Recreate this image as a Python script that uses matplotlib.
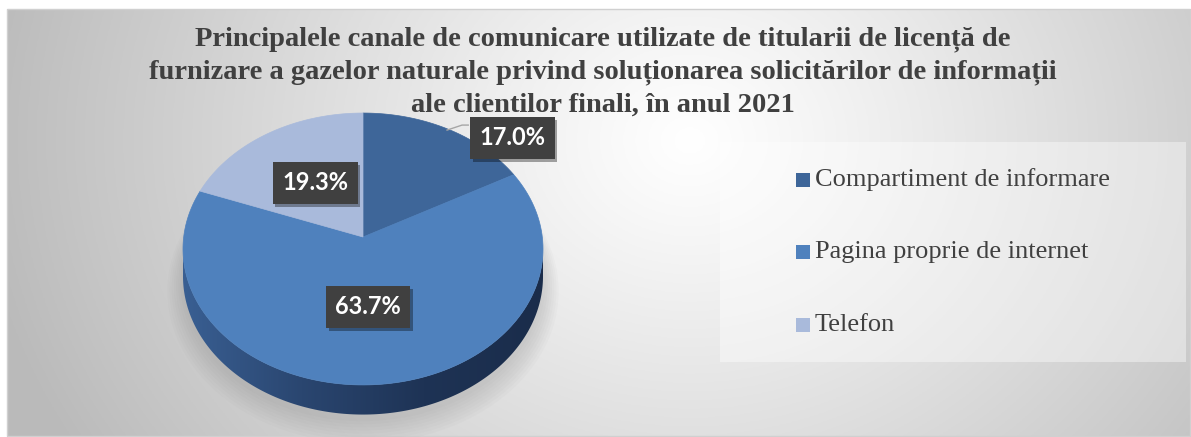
import numpy as np
import matplotlib.pyplot as plt
import matplotlib.patheffects as pe
from matplotlib.patches import Polygon, Rectangle
from matplotlib.colors import LinearSegmentedColormap

title = ("Principalele canale de comunicare utilizate de titularii de licență de\n"
         "furnizare a gazelor naturale privind soluționarea solicitărilor de informații\n"
         "ale clientilor finali, în anul 2021")
categories = ["Compartiment de informare", "Pagina proprie de internet", "Telefon"]
shares = [17.0, 63.7, 19.3]
colors = ["#3E6699", "#4F81BD", "#A9BADB"]
labels = ["17.0%", "63.7%", "19.3%"]
# label centres in pie-disk coordinates (x right, y towards the back)
label_xy = [(0.89, 0.785), (0.027, -0.496), (-0.277, 0.415)]

W, H = 1191, 437
cx, cy = 363, 237          # apex of the pie on screen
A, B, p = 179.3, 134.9, 0.0882   # perspective ellipse
depth = 27


def proj(x, y, z=0.0):
    w = 1 + p * y
    return cx + A * x / w, cy - B * y / w + z / w


fig = plt.figure(figsize=(W / 100, H / 100), dpi=100)
ax = fig.add_axes([0, 0, 1, 1])
ax.set_xlim(0, W)
ax.set_ylim(H, 0)
ax.axis('off')

# background: radial grey gradient
gx, gy = np.meshgrid(np.linspace(7, W, 400), np.linspace(9, H, 160))
d = np.sqrt(((gx - 690) / 1.0) ** 2 + ((gy - 140) / 0.85) ** 2) / 720
g = 1 - 0.27 * np.clip(d, 0, 1) ** 1.1
ax.imshow(np.dstack([g, g, g]), extent=(7, W, H, 9), aspect='auto', zorder=0)
ax.add_patch(Rectangle((7, 9), W - 8, H - 10, fill=False, ec='#D0D0D0', lw=1, zorder=1))

# soft shadow under the pie
t = np.linspace(0, 2 * np.pi, 200)
for k in range(8):
    s = 1.0 + 0.012 * k
    px, py = proj(s * np.cos(t), s * np.sin(t) - 0.02, depth + 3 + k)
    ax.fill(px, py, color='#7F7F7F', alpha=0.035, lw=0, zorder=2)

# side wall (front part) as one polygon filled with a horizontal gradient
t0 = np.pi + np.arcsin(p)
t1 = 2 * np.pi - np.arcsin(p)
ts = np.linspace(t0, t1, 200)
top = [proj(np.cos(a), np.sin(a)) for a in ts]
bot = [proj(np.cos(a), np.sin(a), depth) for a in ts[::-1]]
side = Polygon(top + bot, closed=True, fc='none', ec='none', zorder=3)
ax.add_patch(side)
side_cmap = LinearSegmentedColormap.from_list('side', ["#3A6094", "#2A4670", "#1E3355", "#1A2C4A"])
grad = np.linspace(0, 1, 256)[None, :]
im = ax.imshow(grad, cmap=side_cmap, extent=(cx - 185, cx + 185, H, cy - 20),
               aspect='auto', zorder=3)
im.set_clip_path(side)

# top face wedges, clockwise from 12 o'clock
start = 90.0
mids = []
for share, col in zip(shares, colors):
    end = start - share / 100 * 360
    ang = np.radians(np.linspace(start, end, 150))
    pts = [proj(0, 0)] + [proj(np.cos(a), np.sin(a)) for a in ang]
    ax.add_patch(Polygon(pts, closed=True, fc=col, ec=col, lw=0.5, zorder=4))
    mids.append(np.radians((start + end) / 2))
    start = end

# leader line for the small slice
lx0, ly0 = proj(np.cos(mids[0]) * 0.99, np.sin(mids[0]) * 0.99)
lxb, lyb = proj(*label_xy[0])
ax.plot([lx0, lx0 + 15, lxb - 44], [ly0, ly0 - 5, ly0 - 5], color='#A6A6A6', lw=1, zorder=5)

# data labels
for lab, (lx, ly) in zip(labels, label_xy):
    x, y = proj(lx, ly)
    txt = ax.text(x, y, lab, ha='center', va='center', color='white', fontsize=17,
                  fontweight='bold', family=['Lato', 'DejaVu Sans'], zorder=7,
                  bbox=dict(boxstyle='square,pad=0.4', fc='#404040', ec='none'))
    txt.get_bbox_patch().set_path_effects([
        pe.SimplePatchShadow(offset=(2, -2), shadow_rgbFace='#000000', alpha=0.35),
        pe.Normal()])

# title
ax.text(603, 26, title, ha='center', va='top', fontsize=20.5, fontweight='bold',
        family='Liberation Serif', color='#404040', linespacing=1.4, zorder=6)

# legend
ax.add_patch(Rectangle((720, 142), 466, 220, fc='white', alpha=0.4, ec='none', zorder=5))
rows = [180, 252, 325]
for name, col, ry in zip(categories, colors, rows):
    ax.add_patch(Rectangle((796, ry - 7), 14, 14, fc=col, ec='none', zorder=6))
    ax.text(815, ry, name, ha='left', va='center', fontsize=19, family='Liberation Serif',
            color='#404040', zorder=6)

fig.savefig('out.png', dpi=100)
